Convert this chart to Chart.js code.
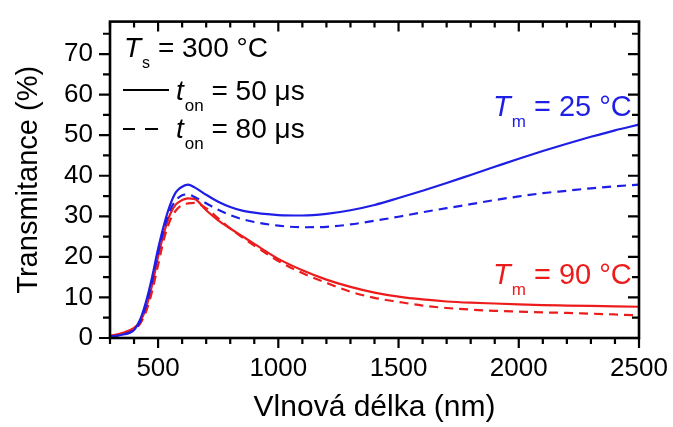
<!DOCTYPE html>
<html>
<head>
<meta charset="utf-8">
<script src="https://cdn.jsdelivr.net/npm/chart.js@4/dist/chart.umd.min.js"></script>
<style>
  html, body { margin: 0; padding: 0; background: #ffffff; }
  #wrap { width: 673px; height: 427px; position: relative; }
</style>
</head>
<body>
<div id="wrap"><canvas id="c" width="673" height="427"></canvas></div>
<script>
// ---- data ----
const wavelengths = [300, 350, 400, 425, 450, 475, 500, 525, 550, 575, 600, 625, 650, 700, 750, 800, 850, 900, 1000, 1100, 1200, 1300, 1400, 1500, 1600, 1700, 1800, 1900, 2000, 2100, 2200, 2300, 2400, 2500];
// Tm = 25 °C, ton = 50 µs (blue solid)
const tm25_ton50 = [0.3, 0.8, 2.0, 4.5, 9.0, 15.0, 22.0, 28.0, 32.8, 36.0, 37.3, 37.8, 37.2, 35.3, 33.6, 32.3, 31.4, 30.9, 30.3, 30.2, 30.6, 31.5, 32.8, 34.5, 36.3, 38.2, 40.2, 42.2, 44.2, 46.1, 47.9, 49.6, 51.2, 52.6];
// Tm = 25 °C, ton = 80 µs (blue dashed)
const tm25_ton80 = [0.3, 0.8, 2.0, 4.0, 8.0, 14.0, 21.0, 27.0, 31.5, 34.0, 35.2, 35.4, 34.8, 33.2, 31.6, 30.3, 29.3, 28.6, 27.7, 27.3, 27.4, 28.0, 28.9, 29.9, 31.0, 32.0, 33.0, 34.0, 34.9, 35.7, 36.3, 36.9, 37.4, 37.8];
// Tm = 90 °C, ton = 50 µs (red solid)
const tm90_ton50 = [0.5, 1.2, 2.5, 4.0, 7.5, 13.0, 20.0, 26.0, 30.5, 33.0, 34.0, 34.4, 34.3, 31.5, 29.0, 27.0, 25.1, 23.2, 19.5, 16.7, 14.4, 12.6, 11.2, 10.2, 9.5, 9.0, 8.7, 8.5, 8.3, 8.1, 8.0, 7.9, 7.8, 7.7];
// Tm = 90 °C, ton = 80 µs (red dashed)
const tm90_ton80 = [0.5, 1.0, 2.2, 3.5, 6.5, 11.5, 18.0, 24.5, 29.0, 31.5, 32.8, 33.2, 33.3, 32.0, 29.5, 27.0, 24.8, 22.8, 19.0, 16.0, 13.6, 11.4, 9.9, 8.9, 8.0, 7.4, 7.0, 6.7, 6.5, 6.3, 6.2, 6.0, 5.8, 5.6];

const xTickLabels = [500, 1000, 1500, 2000, 2500];
const yTickLabels = [0, 10, 20, 30, 40, 50, 60, 70];

const BLUE = '#1e1ee6';
const RED = '#ec1c1c';
const FONT = '"Liberation Sans", Arial, Helvetica, sans-serif';

function pts(arr) { return wavelengths.map((w, i) => ({ x: w, y: arr[i] })); }

function ds(arr, color, dashed) {
  return {
    data: pts(arr),
    borderColor: color,
    borderWidth: 2.2,
    borderDash: dashed ? [9, 6] : [],
    pointRadius: 0,
    fill: false,
    cubicInterpolationMode: 'monotone'
  };
}

const frameAndText = {
  id: 'frameAndText',
  afterDraw(chart) {
    const { ctx, chartArea: a, scales: { x, y } } = chart;
    ctx.save();
    ctx.strokeStyle = '#000';
    // ticks
    ctx.lineWidth = 2.2;
    ctx.beginPath();
    for (let v = 300; v <= 2500; v += 100) {
      const px = x.getPixelForValue(v);
      const L = (v % 500 === 0) ? 10 : 6;
      ctx.moveTo(px, a.bottom); ctx.lineTo(px, a.bottom + L);
      ctx.moveTo(px, a.top); ctx.lineTo(px, a.top + L);
    }
    for (let v = 0; v <= 75; v += 5) {
      const py = y.getPixelForValue(v);
      const L = (v % 10 === 0) ? 11 : 7;
      ctx.moveTo(a.left, py); ctx.lineTo(a.left - L, py);
      ctx.moveTo(a.right, py); ctx.lineTo(a.right - L, py);
    }
    ctx.stroke();
    // frame
    ctx.lineWidth = 2.6;
    ctx.strokeRect(a.left, a.top, a.right - a.left, a.bottom - a.top);

    // axis titles
    ctx.fillStyle = '#000';
    ctx.font = '30px ' + FONT;
    ctx.textAlign = 'center';
    ctx.textBaseline = 'alphabetic';
    ctx.fillText('Vlnová délka (nm)', (a.left + a.right) / 2, 416);
    ctx.save();
    ctx.translate(37, (a.top + a.bottom) / 2);
    ctx.rotate(-Math.PI / 2);
    ctx.font = '29px ' + FONT;
    ctx.fillText('Transmitance (%)', 0, 0);
    ctx.restore();

    // labels with subscripts
    function label(xp, yp, main, sub, rest, color, size, subSize) {
      ctx.fillStyle = color;
      ctx.textAlign = 'left';
      ctx.font = 'italic ' + size + 'px ' + FONT;
      ctx.fillText(main, xp, yp);
      let cx = xp + ctx.measureText(main).width;
      ctx.font = subSize + 'px ' + FONT;
      ctx.fillText(sub, cx + 1, yp + 11);
      cx += 1 + ctx.measureText(sub).width;
      ctx.font = size + 'px ' + FONT;
      ctx.fillText(rest, cx, yp);
    }
    label(124, 57, 'T', 's', ' = 300 °C', '#000', 28, 16);
    label(176, 100, 't', 'on', ' = 50 μs', '#000', 28, 17);
    label(176, 138, 't', 'on', ' = 80 μs', '#000', 28, 17);
    label(493, 116, 'T', 'm', ' = 25 °C', BLUE, 29, 17);
    label(493, 284, 'T', 'm', ' = 90 °C', RED, 29, 17);

    // legend line samples
    ctx.strokeStyle = '#000';
    ctx.lineWidth = 2;
    ctx.beginPath();
    ctx.moveTo(123, 90); ctx.lineTo(169, 90);
    ctx.moveTo(123, 129); ctx.lineTo(135, 129);
    ctx.moveTo(145, 129); ctx.lineTo(158, 129);
    ctx.stroke();
    ctx.restore();
  }
};

new Chart(document.getElementById('c'), {
  type: 'line',
  data: {
    datasets: [
      ds(tm25_ton50, BLUE, false),
      ds(tm25_ton80, BLUE, true),
      ds(tm90_ton50, RED, false),
      ds(tm90_ton80, RED, true)
    ]
  },
  options: {
    responsive: false,
    animation: false,
    devicePixelRatio: 1,
    layout: { padding: { top: 15, right: 34, left: 0, bottom: 0 } },
    plugins: { legend: { display: false }, tooltip: { enabled: false } },
    scales: {
      x: {
        type: 'linear',
        min: 300, max: 2500,
        afterBuildTicks: s => { s.ticks = xTickLabels.map(v => ({ value: v })); },
        afterFit: s => { s.height = 89; },
        grid: { display: true, drawOnChartArea: false, drawTicks: true, tickLength: 10, color: 'rgba(0,0,0,0)' },
        border: { display: false },
        ticks: { color: '#000', font: { family: FONT, size: 26 }, padding: 5, maxRotation: 0, autoSkip: false, callback: v => String(v) }
      },
      y: {
        type: 'linear',
        min: 0, max: 78,
        afterBuildTicks: s => { s.ticks = yTickLabels.map(v => ({ value: v })); },
        afterFit: s => { s.width = 110; },
        grid: { display: true, drawOnChartArea: false, drawTicks: true, tickLength: 11, color: 'rgba(0,0,0,0)' },
        border: { display: false },
        ticks: { color: '#000', font: { family: FONT, size: 26 }, padding: 6, autoSkip: false, callback: v => String(v) }
      }
    }
  },
  plugins: [frameAndText]
});
</script>
</body>
</html>
